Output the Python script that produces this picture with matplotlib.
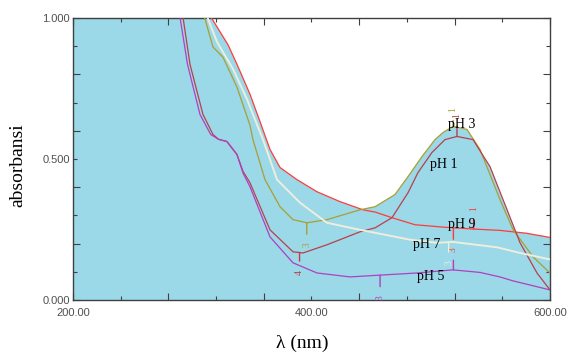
import numpy as np
import matplotlib
matplotlib.use('Agg')
from matplotlib import pyplot as plt

''' Spectra read off the picture (values above 1.0 are off-scale guesses) '''
lam_ph9 = [200, 285, 300, 316.6, 330, 337.5, 348.4, 356.8, 365.2, 373.6, 387.8, 404.6,
           423.9, 443.2, 453.3, 467.5, 486.8, 512, 535, 558, 580, 600]
abs_ph9 = [3.0, 1.3, 1.12, 0.997, 0.905, 0.836, 0.730, 0.633, 0.534, 0.47, 0.427, 0.384,
           0.349, 0.320, 0.312, 0.292, 0.267, 0.258, 0.252, 0.247, 0.237, 0.222]

lam_ph3 = [200, 300, 310.7, 317.4, 325.8, 337.5, 348.4, 350.9, 361, 373.6, 384.5, 396.2,
           413, 440.7, 453.3, 470, 481, 492.7, 503.6, 510.3, 518.7, 530.4, 541.3, 558.1,
           569, 585.8, 600]
abs_ph3 = [3.0, 1.1, 0.997, 0.897, 0.861, 0.755, 0.62, 0.569, 0.427, 0.331, 0.285, 0.274,
           0.285, 0.320, 0.331, 0.374, 0.438, 0.509, 0.569, 0.594, 0.616, 0.605, 0.534, 0.356,
           0.25, 0.153, 0.096]

lam_ph1 = [200, 285, 292.2, 298.1, 309, 317.4, 322, 329.1, 337.5, 342.6, 348.4, 365.2,
           384.5, 392.9, 413, 440.7, 453.3, 467.5, 481, 489.3, 501, 512, 522, 535.4, 549.7,
           564, 574.9, 589.1, 600]
abs_ph1 = [3.0, 1.2, 1.004, 0.836, 0.658, 0.587, 0.57, 0.562, 0.516, 0.456, 0.416, 0.249,
           0.171, 0.167, 0.196, 0.242, 0.256, 0.292, 0.381, 0.452, 0.523, 0.569, 0.580, 0.569,
           0.473, 0.320, 0.203, 0.096, 0.036]

lam_ph5 = [200, 285, 289.7, 296, 306.5, 315.5, 322, 329.1, 337.5, 342.6, 348.4, 365.2,
           384.5, 404.6, 432.3, 460, 488.5, 518.7, 541.3, 558, 569, 600]
abs_ph5 = [3.0, 1.15, 1.004, 0.836, 0.658, 0.587, 0.57, 0.562, 0.516, 0.45, 0.402, 0.224,
           0.132, 0.096, 0.082, 0.089, 0.096, 0.107, 0.098, 0.082, 0.068, 0.036]

lam_ph7 = [200, 300, 313.2, 320.8, 334.2, 345.9, 359.3, 371.1, 390.4, 413, 440.7, 482.6,
           505.2, 518.7, 555.6, 574.9, 600]
abs_ph7 = [3.0, 1.15, 0.997, 0.915, 0.819, 0.712, 0.569, 0.427, 0.345, 0.274, 0.249, 0.214,
           0.203, 0.206, 0.187, 0.167, 0.144]

names = ['pH 9', 'pH 3', 'pH 1', 'pH 5', 'pH 7']
colors = ['#ff3c3c', '#a8a032', '#b8404c', '#b040c0', '#eeeedc']
series = [(lam_ph9, abs_ph9), (lam_ph3, abs_ph3), (lam_ph1, abs_ph1),
          (lam_ph5, abs_ph5), (lam_ph7, abs_ph7)]

# peak / valley picks: series index, wavelength, label
pick_idx = [1, 2, 0, 0, 4, 3, 1, 2, 3]
pick_lam = [518.7, 522, 536, 519, 515, 519, 396, 390, 457.5]
pick_txt = ['1', '1', '1', '3', '3', '', '3', '4', '3']
# offset of the label from the curve, points (+ up, - down)
pick_off = [12, 15, 15, -16, -15, 7, -16, -14, -16]

fill_col = '#9bd8e8'
frame_col = '#404040'

fig = plt.figure(figsize=(5.68, 3.53), dpi=100)
ax = fig.add_axes([0.1285, 0.150, 0.8398, 0.799])

for (lam, a), c in zip(series, colors):
    ax.fill_between(lam, a, 0, color=fill_col, lw=0, zorder=1)
for (lam, a), c in zip(series, colors):
    lw = 1.4 if c == '#eeeedc' else 0.9
    ax.plot(lam, a, color=c, lw=lw, zorder=3, solid_joinstyle='round')

for i, l, t, off in zip(pick_idx, pick_lam, pick_txt, pick_off):
    lam, a = series[i]
    yc = np.interp(l, lam, a)
    ax.annotate(t, xy=(l, yc), xytext=(0, off), textcoords='offset points',
                rotation=90, ha='center', va='center', fontsize=7, color=colors[i],
                family='Liberation Serif', zorder=4,
                arrowprops=dict(arrowstyle='-', color=colors[i], lw=1,
                                shrinkA=4 if t else 0, shrinkB=0))

# curve labels
lab_x = [514.3, 514.3, 499.4, 488.5, 485.1]
lab_y = [0.267, 0.623, 0.48, 0.082, 0.196]
for n, x, y in zip(names, lab_x, lab_y):
    ax.text(x, y, n, fontsize=10, family='Liberation Serif', ha='left', va='center',
            color='black', zorder=5)

ax.set_xlim(200, 600)
ax.set_ylim(0, 1)

xmaj = [200, 280, 360, 440, 520, 600]
xmin = [240, 320, 400, 480, 560]
ax.set_xticks(xmaj, labels=['200.00', '', '', '', '', '600.00'])
ax.set_xticks(xmin, labels=['', '', '400.00', '', ''], minor=True)
ymaj = [0, 0.2, 0.4, 0.6, 0.8, 1.0]
ymin = [0.1, 0.3, 0.5, 0.7, 0.9]
ax.set_yticks(ymaj, labels=['0.000', '', '', '', '', '1.000'])
ax.set_yticks(ymin, labels=['', '', '0.500', '', ''], minor=True)

ax.tick_params(which='both', direction='in', top=True, right=True, colors=frame_col,
               labelcolor='#505050', labelsize=8, width=0.8)
ax.tick_params(which='major', length=5)
ax.tick_params(which='minor', length=3)
ax.tick_params(axis='x', which='both', pad=6)
ax.tick_params(axis='y', which='both', pad=2)
for lab in ax.get_xticklabels(which='both') + ax.get_yticklabels(which='both'):
    lab.set_family('Liberation Sans')
for s in ax.spines.values():
    s.set_color(frame_col)
    s.set_linewidth(1.0)

fig.text(18 / 568, 1 - 165 / 353, 'absorbansi', rotation=90, fontsize=14,
         family='Liberation Serif', ha='center', va='center')
fig.text(302 / 568, 1 - 343 / 353, 'λ (nm)', fontsize=14,
         family='Liberation Serif', ha='center', va='center')

fig.savefig('out.png', dpi=100)
